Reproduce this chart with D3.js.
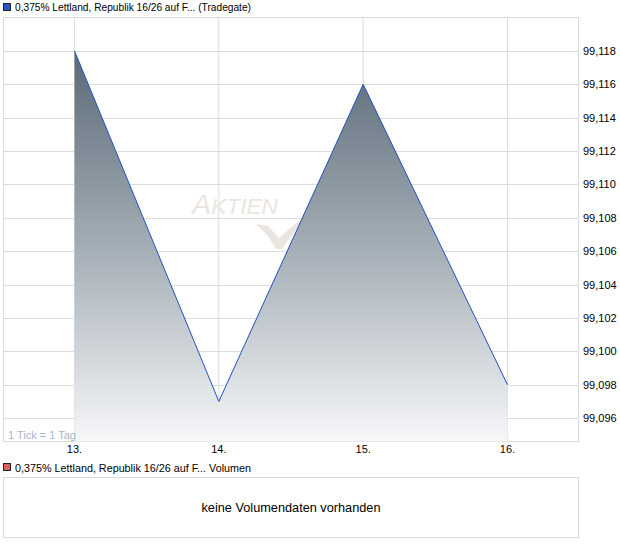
<!DOCTYPE html>
<html><head><meta charset="utf-8">
<script src="https://cdn.jsdelivr.net/npm/d3@7"></script>
<style>
body{margin:0;background:#fff;}
text{font-family:"Liberation Sans",Arial,sans-serif;}
</style></head>
<body>
<svg id="c" width="620" height="546"></svg>
<script>
const categories = ["13.", "14.", "15.", "16."];
const prices = [99.118, 99.097, 99.116, 99.098];
const yTicks = [99.096, 99.098, 99.100, 99.102, 99.104, 99.106, 99.108, 99.110, 99.112, 99.114, 99.116, 99.118];
const title = "0,375% Lettland, Republik 16/26 auf F... (Tradegate)";
const volTitle = "0,375% Lettland, Republik 16/26 auf F... Volumen";
const volMsg = "keine Volumendaten vorhanden";
const tickNote = "1 Tick = 1 Tag";

const svg = d3.select("#c");
const L = 3.5, R = 578.5, T = 17.5, B = 441.5;

const x = d3.scalePoint().domain(categories).range([74.5, 507.5]);
const y = d3.scaleLinear().domain([99.0946, 99.1200]).range([B, T]);

const defs = svg.append("defs");
const g = defs.append("linearGradient").attr("id","gr").attr("gradientUnits","userSpaceOnUse")
  .attr("x1",0).attr("y1",y(99.118)).attr("x2",0).attr("y2",B);
g.append("stop").attr("offset","0").attr("stop-color","#5a6a77");
g.append("stop").attr("offset","0.5").attr("stop-color","#a3adb5");
g.append("stop").attr("offset","1").attr("stop-color","#f6f7f9");

// legend
svg.append("rect").attr("x",3.5).attr("y",3.5).attr("width",7).attr("height",7)
  .attr("fill","#2457c5").attr("stroke","#222").attr("stroke-width",1);
svg.append("text").attr("x",15).attr("y",11).attr("font-size",10.5).attr("fill","#000")
  .attr("textLength",236).attr("lengthAdjust","spacingAndGlyphs").text(title);

// frame
svg.append("rect").attr("x",L).attr("y",T).attr("width",R-L).attr("height",B-T)
  .attr("fill","#fff").attr("stroke","#d9d9d9");

// gridlines
svg.append("g").selectAll("line").data(yTicks).join("line")
  .attr("x1",L).attr("x2",R).attr("y1",d=>Math.round(y(d))+0.5).attr("y2",d=>Math.round(y(d))+0.5)
  .attr("stroke","#dcdcdc");
svg.append("g").selectAll("line").data(categories).join("line")
  .attr("x1",d=>x(d)).attr("x2",d=>x(d)).attr("y1",T).attr("y2",B)
  .attr("stroke","#dcdcdc");

// watermark
const wm = svg.append("g");
wm.append("text").attr("x",192).attr("y",214).attr("font-size",28).attr("font-style","italic")
  .attr("fill","#ebe5df").attr("textLength",86).attr("lengthAdjust","spacingAndGlyphs")
  .html('A<tspan font-size="22">KTIEN</tspan>');
wm.append("path").attr("d","M256,224 L268,226 L279,238 L302,218 L300,224 L282,249 L276,249 L268,236 Z")
  .attr("fill","#ebe5df");

const data = categories.map((c,i)=>({c, v:prices[i]}));
const area = d3.area().x(d=>x(d.c)).y0(B).y1(d=>y(d.v));
svg.append("path").datum(data).attr("d",area).attr("fill","url(#gr)");
const line = d3.line().x(d=>x(d.c)).y(d=>y(d.v));
svg.append("path").datum(data).attr("d",line).attr("fill","none").attr("stroke","#2050c0").attr("stroke-width",1);

// note
svg.append("text").attr("x",8).attr("y",439).attr("font-size",11).attr("fill","#a7b6cb").text(tickNote);

// y axis labels
const fmt = d => d.toFixed(3).replace(".", ",");
svg.append("g").selectAll("text").data(yTicks).join("text")
  .attr("x",583).attr("y",d=>y(d)+4).attr("font-size",11).attr("fill","#000").text(fmt);

// x labels
svg.append("g").selectAll("text").data(categories).join("text")
  .attr("x",d=>x(d)).attr("y",453).attr("text-anchor","middle").attr("font-size",11).attr("fill","#000").text(d=>d);

// volume panel
svg.append("rect").attr("x",3.5).attr("y",463.5).attr("width",7).attr("height",7)
  .attr("fill","#d86060").attr("stroke","#222").attr("stroke-width",1);
svg.append("text").attr("x",15).attr("y",472).attr("font-size",10.8).attr("fill","#000")
  .attr("textLength",236).attr("lengthAdjust","spacingAndGlyphs").text(volTitle);
svg.append("rect").attr("x",3.5).attr("y",477.5).attr("width",575).attr("height",60)
  .attr("fill","#fff").attr("stroke","#d9d9d9");
svg.append("text").attr("x",291).attr("y",512).attr("text-anchor","middle").attr("font-size",12.5).attr("fill","#000")
  .attr("textLength",179).attr("lengthAdjust","spacingAndGlyphs").text(volMsg);
</script>
</body></html>
